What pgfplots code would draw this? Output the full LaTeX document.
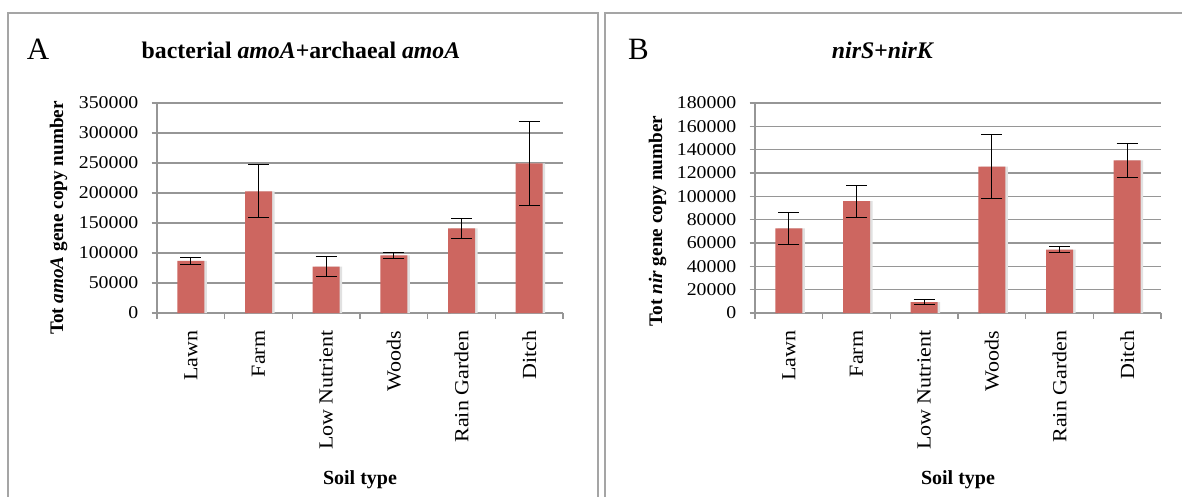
\documentclass[border=0pt]{standalone}
\usepackage{pgfplots}
\pgfplotsset{compat=1.18}
\usepackage{pgfplotstable}
\usepackage{fontspec}
\setmainfont{Liberation Serif}
\newfontfamily\tickfont[FakeStretch=1.1]{Liberation Serif}
\definecolor{barred}{RGB}{205,102,96}
\definecolor{gridgray}{RGB}{150,150,150}
\definecolor{framegray}{RGB}{165,165,165}
\definecolor{shadowgray}{RGB}{225,225,225}

\pgfplotstableread{
x y e
0 87000 6400
1 202800 44000
2 77500 16400
3 96100 5500
4 141100 16700
5 249200 70300
}\dataA
\pgfplotstableread{
x y e
0 72500 13900
1 96000 13700
2 9400 2000
3 125400 27400
4 54300 2600
5 130900 14300
}\dataB

\pgfplotsset{panel/.style={
  scale only axis, width=406pt, height=210pt,
  anchor=south west,
  xmin=-0.5, xmax=5.5, ymin=0,
  axis x line*=bottom, axis y line*=left,
  axis line style={gridgray, line width=1.2pt},
  ymajorgrids, grid style={gridgray, line width=1.2pt},
  tick align=outside, major tick length=5.5pt,
  tick style={gridgray, line width=1.2pt},
  xtick={-0.5,0.5,...,5.5},
  x tick label as interval,
  xticklabels={Lawn,Farm,Low Nutrient,Woods,Rain Garden,Ditch},
  x tick label style={rotate=90, anchor=east, inner sep=0pt,
     font=\tickfont\fontsize{20}{20}\selectfont},
  xticklabel shift=12pt,
  y tick label style={anchor=east, inner sep=0pt,
     font=\tickfont\fontsize{18}{18}\selectfont},
  yticklabel shift=13pt,
  scaled y ticks=false,
  ybar, bar width=27pt,
  clip=false,
}}

\begin{document}
\begin{tikzpicture}
\useasboundingbox (0,0) rectangle (1182pt,-497pt);
\fill[white] (0,0) rectangle (1182pt,-497pt);
% frames
\draw[framegray, line width=1.8pt] (8pt,-497pt) -- (8pt,-13pt) -- (598pt,-13pt) -- (598pt,-497pt);
\draw[framegray, line width=1.8pt] (605pt,-497pt) -- (605pt,-13pt) -- (1182pt,-13pt);

% Panel A
\begin{axis}[panel, at={(157pt,-313pt)},
  ymax=350000,
  ytick={0,50000,100000,150000,200000,250000,300000,350000},
  yticklabels={0,50000,100000,150000,200000,250000,300000,350000}]
\addplot[fill=shadowgray, draw=none, bar shift=2.5pt] table[x=x, y=y] {\dataA};
\addplot[fill=barred, draw=none, bar shift=0pt,
  error bars/.cd, y dir=both, y explicit,
  error bar style={black, line width=0.9pt},
  error mark options={rotate=90, mark size=10.5pt, black, line width=0.9pt}]
  table[x=x, y=y, y error=e] {\dataA};
\end{axis}

% Panel B
\begin{axis}[panel, at={(755pt,-313pt)},
  ymax=180000,
  ytick={0,20000,40000,60000,80000,100000,120000,140000,160000,180000},
  yticklabels={0,20000,40000,60000,80000,100000,120000,140000,160000,180000}]
\addplot[fill=shadowgray, draw=none, bar shift=2.5pt] table[x=x, y=y] {\dataB};
\addplot[fill=barred, draw=none, bar shift=0pt,
  error bars/.cd, y dir=both, y explicit,
  error bar style={black, line width=0.9pt},
  error mark options={rotate=90, mark size=10.5pt, black, line width=0.9pt}]
  table[x=x, y=y, y error=e] {\dataB};
\end{axis}

% panel letters and titles
\node[anchor=base west, inner sep=0pt, font=\fontsize{31}{31}\selectfont] at (26.7pt,-59.3pt) {A};
\node[anchor=base west, inner sep=0pt, font=\fontsize{31}{31}\selectfont] at (627.8pt,-59.3pt) {B};
\node[anchor=base, inner sep=0pt, font=\fontsize{23.8}{23.8}\selectfont\bfseries] at (301pt,-58.3pt)
  {bacterial \textit{amoA}+archaeal \textit{amoA}};
\node[anchor=base, inner sep=0pt, font=\fontsize{23.8}{23.8}\selectfont\bfseries] at (883pt,-58.3pt)
  {\textit{nirS+nirK}};

% axis titles
\node[anchor=base, inner sep=0pt, font=\fontsize{20}{20}\selectfont\bfseries] at (360pt,-484pt) {Soil type};
\node[anchor=base, inner sep=0pt, font=\fontsize{20}{20}\selectfont\bfseries] at (958pt,-484pt) {Soil type};
\node[anchor=base, rotate=90, inner sep=0pt, font=\fontsize{19.2}{19.2}\selectfont\bfseries] at (63pt,-218pt)
  {Tot \textit{amoA} gene copy number};
\node[anchor=base, rotate=90, inner sep=0pt, font=\fontsize{19.2}{19.2}\selectfont\bfseries] at (662pt,-221pt)
  {Tot \textit{nir} gene copy number};
\end{tikzpicture}
\end{document}
